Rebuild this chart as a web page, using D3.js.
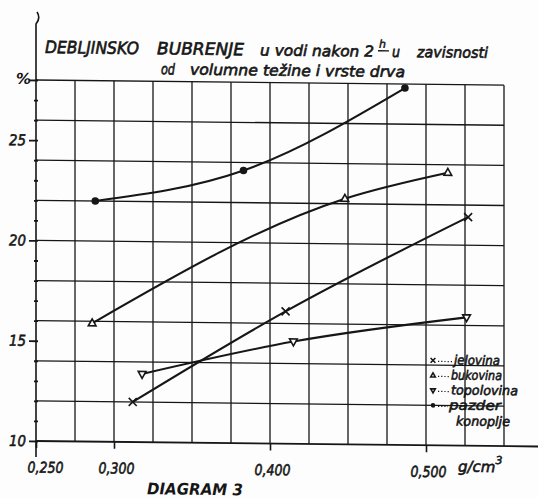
<!DOCTYPE html>
<html>
<head>
<meta charset="utf-8">
<script src="https://cdn.jsdelivr.net/npm/d3@7"></script>
<style>
  html, body { margin: 0; padding: 0; background: #fdfdfd; }
  svg { display: block; }
  text { font-family: "DejaVu Sans", sans-serif; font-style: italic; fill: #161616; }
</style>
</head>
<body>
<svg id="chart" width="538" height="498"></svg>
<script>
// Thickness swelling in water after 2 h, by density and wood species
const seriesNames = ["jelovina", "bukovina", "topolovina", "pazder konoplje"];
const jelovinaX = [0.312, 0.410, 0.527];
const jelovinaY = [12.0, 16.6, 21.4];
const bukovinaX = [0.286, 0.448, 0.514];
const bukovinaY = [15.9, 22.25, 23.6];
const topolovinaX = [0.318, 0.415, 0.526];
const topolovinaY = [13.4, 15.1, 16.4];
const pazderX = [0.288, 0.383, 0.4865];
const pazderY = [22.0, 23.6, 27.8];

const xTickValues = [0.25, 0.3, 0.4, 0.5];
const xTickLabels = ["0,250", "0,300", "0,400", "0,500"];
const yTickValues = [10, 15, 20, 25];
const yTickLabels = ["10", "15", "20", "25"];

const ink = "#161616";
const svg = d3.select("#chart");

// the whole sheet runs with a slight downward slant to the right
const root = svg.append("g")
  .attr("transform", "translate(36,0) skewY(0.63) translate(-36,0)");

const x = d3.scaleLinear().domain([0.25, 0.55]).range([36, 504]);
const y = d3.scaleLinear().domain([10, 28]).range([441, 80]);

// grid
const grid = root.append("g").attr("stroke", ink).attr("stroke-width", 1.3).attr("fill", "none");
d3.range(0.275, 0.5501, 0.025).forEach(v => {
  grid.append("line").attr("x1", x(v)).attr("x2", x(v)).attr("y1", y(28)).attr("y2", y(10));
});
d3.range(12, 28.01, 2).forEach(v => {
  grid.append("line").attr("x1", x(0.25)).attr("x2", x(0.55)).attr("y1", y(v)).attr("y2", y(v));
});

// axis lines
root.append("line").attr("x1", x(0.25)).attr("x2", 540).attr("y1", y(10)).attr("y2", y(10))
  .attr("stroke", ink).attr("stroke-width", 1.8);
root.append("path")
  .attr("d", `M36,457 L36,24 Q41,18 37,12`)
  .attr("stroke", ink).attr("stroke-width", 1.6).attr("fill", "none");

// y axis ticks
const yMinor = d3.axisLeft(y).tickValues(d3.range(11, 28, 1).filter(v => v % 5 !== 0))
  .tickSize(4).tickFormat("");
const gMinor = root.append("g").attr("transform", "translate(38,0)").call(yMinor);
gMinor.select(".domain").remove();
gMinor.selectAll("line").attr("stroke", ink).attr("stroke-width", 1.8);

const yMajor = d3.axisLeft(y).tickValues(yTickValues.concat([28]))
  .tickSize(9).tickPadding(3)
  .tickFormat(d => { const i = yTickValues.indexOf(d); return i >= 0 ? yTickLabels[i] : ""; });
const gMajor = root.append("g").attr("transform", "translate(38,0)").call(yMajor);
gMajor.select(".domain").remove();
gMajor.selectAll("line").attr("stroke", ink).attr("stroke-width", 1.8);
gMajor.selectAll("text")
  .attr("font-size", 15).attr("font-family", "DejaVu Sans").attr("font-style", "italic")
  .attr("fill", ink).attr("stroke", ink).attr("stroke-width", 0.6)
  .attr("textLength", 17).attr("lengthAdjust", "spacingAndGlyphs");

root.append("text").attr("x", 16).attr("y", y(28) + 4).attr("font-size", 15)
  .attr("font-weight", "bold").text("%");

// x axis ticks and labels
const xAxis = d3.axisBottom(x).tickValues(xTickValues).tickSize(7).tickPadding(14)
  .tickFormat((d, i) => xTickLabels[i]);
const gx = root.append("g").attr("transform", `translate(0,${y(10)})`).call(xAxis);
gx.select(".domain").remove();
gx.selectAll("line").attr("stroke", ink).attr("stroke-width", 1.6);
gx.selectAll("text")
  .attr("font-size", 15).attr("font-family", "DejaVu Sans").attr("font-style", "italic")
  .attr("fill", ink).attr("stroke", ink).attr("stroke-width", 0.6)
  .attr("dx", (d, i) => i === 0 ? 9 : 2)
  .attr("textLength", 36).attr("lengthAdjust", "spacingAndGlyphs");

const unit = root.append("text").attr("x", 458).attr("y", 467).attr("font-size", 15)
  .attr("stroke", ink).attr("stroke-width", 0.6);
unit.append("tspan").text("g/cm");
unit.append("tspan").attr("dy", -8).attr("font-size", 11).text("3");

root.append("text").attr("x", 147).attr("y", 493).attr("font-size", 16)
  .attr("font-weight", "bold").attr("textLength", 96).attr("lengthAdjust", "spacingAndGlyphs")
  .text("DIAGRAM  3");

// title
const t1 = [
  { s: "DEBLJINSKO", x: 45, w: 94, fs: 17 },
  { s: "BUBRENJE", x: 157, w: 87, fs: 17 },
  { s: "u vodi nakon 2", x: 260, w: 114, fs: 15 },
  { s: "u", x: 392, w: 8, fs: 15 },
  { s: "zavisnosti", x: 417, w: 71, fs: 15 }
];
t1.forEach(p => {
  root.append("text").attr("x", p.x).attr("y", 53).attr("font-size", p.fs)
    .attr("stroke", ink).attr("stroke-width", 0.65)
    .attr("textLength", p.w).attr("lengthAdjust", "spacingAndGlyphs").text(p.s);
});
root.append("text").attr("x", 379).attr("y", 44).attr("font-size", 11)
  .attr("stroke", ink).attr("stroke-width", 0.5).text("h");
root.append("line").attr("x1", 378).attr("x2", 389).attr("y1", 47).attr("y2", 47)
  .attr("stroke", ink).attr("stroke-width", 1.3);
root.append("text").attr("x", 161).attr("y", 73).attr("font-size", 15)
  .attr("stroke", ink).attr("stroke-width", 0.65)
  .attr("textLength", 14).attr("lengthAdjust", "spacingAndGlyphs").text("od");
root.append("text").attr("x", 190).attr("y", 73).attr("font-size", 15)
  .attr("stroke", ink).attr("stroke-width", 0.65)
  .attr("textLength", 215).attr("lengthAdjust", "spacingAndGlyphs").text("volumne težine i vrste drva");

// series
const series = [
  { name: seriesNames[0], xs: jelovinaX, ys: jelovinaY, sym: "cross" },
  { name: seriesNames[1], xs: bukovinaX, ys: bukovinaY, sym: "up" },
  { name: seriesNames[2], xs: topolovinaX, ys: topolovinaY, sym: "down" },
  { name: seriesNames[3], xs: pazderX, ys: pazderY, sym: "dot" }
];

const line = d3.line().x(d => x(d[0])).y(d => y(d[1])).curve(d3.curveMonotoneX);

function marker(g, cx, cy, sym, s) {
  if (sym === "dot") {
    g.append("circle").attr("cx", cx).attr("cy", cy).attr("r", 3.8 * s).attr("fill", ink);
  } else if (sym === "cross") {
    const r = 4 * s;
    g.append("path").attr("d", `M${cx - r},${cy - r}L${cx + r},${cy + r}M${cx + r},${cy - r}L${cx - r},${cy + r}`)
      .attr("stroke", ink).attr("stroke-width", 1.6).attr("fill", "none");
  } else {
    const r = 4.3 * s, dir = sym === "up" ? -1 : 1;
    g.append("path")
      .attr("d", `M${cx},${cy + dir * r}L${cx - r * 0.9},${cy - dir * r * 0.6}L${cx + r * 0.9},${cy - dir * r * 0.6}Z`)
      .attr("stroke", ink).attr("stroke-width", 1.6).attr("fill", "#fdfdfd");
  }
}

series.forEach(sr => {
  const pts = sr.xs.map((v, i) => [v, sr.ys[i]]);
  root.append("path").attr("d", line(pts)).attr("fill", "none")
    .attr("stroke", ink).attr("stroke-width", 2.1);
  const g = root.append("g");
  pts.forEach(p => marker(g, x(p[0]), y(p[1]), sr.sym, 1));
});

// legend
const legend = root.append("g");
const legendRows = [
  { label: "jelovina", sym: "cross", yy: 360, lx: 454, w: 46 },
  { label: "bukovina", sym: "up", yy: 375, lx: 451, w: 51 },
  { label: "topolovina", sym: "down", yy: 390, lx: 451, w: 67 },
  { label: "pazder", sym: "dot", yy: 405, lx: 449, w: 52 }
];
legendRows.forEach(r => {
  marker(legend, 433, r.yy - 4, r.sym, 0.6);
  legend.append("line").attr("x1", 438).attr("x2", r.lx - 1).attr("y1", r.yy - 3).attr("y2", r.yy - 3)
    .attr("stroke", ink).attr("stroke-width", 1.2).attr("stroke-dasharray", "1.2,2");
  legend.append("text").attr("x", r.lx).attr("y", r.yy).attr("font-size", 13)
    .attr("stroke", ink).attr("stroke-width", 0.6)
    .attr("textLength", r.w).attr("lengthAdjust", "spacingAndGlyphs").text(r.label);
});
legend.append("text").attr("x", 456).attr("y", 421).attr("font-size", 13)
  .attr("stroke", ink).attr("stroke-width", 0.6)
  .attr("textLength", 54).attr("lengthAdjust", "spacingAndGlyphs").text("konoplje");
</script>
</body>
</html>
